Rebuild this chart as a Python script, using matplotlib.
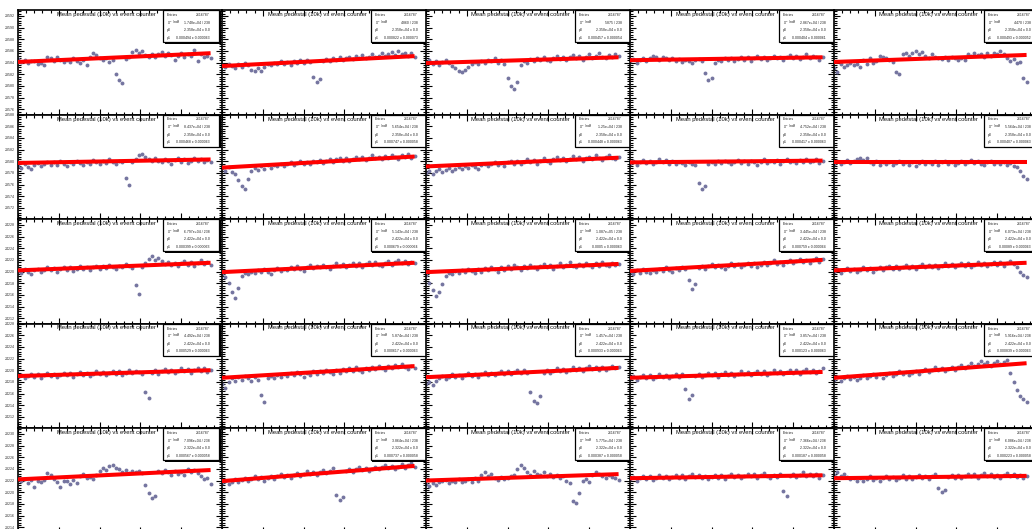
import numpy as np
import matplotlib.pyplot as plt
from matplotlib.ticker import MultipleLocator, FormatStrFormatter
from matplotlib.patches import Rectangle

plt.rcParams['font.family'] = ['Liberation Sans', 'DejaVu Sans']

W, H = 1032, 529
fig = plt.figure(figsize=(W / 100, H / 100), dpi=100)

title = "Mean pedestal (10k) vs event counter"
row_base = [23575, 23570, 24211, 24210, 23213]   # lower edge of the y range of each row
step = 40                                          # event counter between two points

# mean pedestal, in 0.1 ADC above row_base
r1c1 = [96, 91, 94, 89, 93, 92, 87, 90, 86, 99, 97, 92, 99, 94, 91, 95, 91, 97, 93, 90,
        94, 86, 100, 106, 103, 98, 94, 97, 91, 95, 70, 60, 55, 96, 100, 108, 111, 106, 109, 103,
        99, 105, 100, 104, 108, 101, 106, 103, 94, 102, 106, 99, 104, 101, 111, 93, 104, 99, 102, 98]
r1c2 = [86, 82, 88, 84, 80, 87, 83, 89, 85, 78, 76, 80, 75, 83, 88, 85, 90, 87, 92, 88,
        91, 86, 93, 89, 95, 90, 94, 91, 66, 56, 61, 92, 96, 93, 98, 95, 99, 94, 97, 100,
        96, 101, 98, 103, 97, 100, 104, 99, 102, 106, 101, 105, 108, 103, 110, 104, 107, 102, 106, 100]
r1c3 = [90, 94, 88, 92, 86, 91, 95, 89, 84, 80, 76, 74, 78, 82, 87, 91, 88, 93, 90, 95,
        92, 97, 89, 94, 88, 64, 50, 44, 56, 85, 93, 90, 96, 92, 98, 94, 99, 95, 92, 97,
        101, 96, 100, 94, 99, 103, 97, 101, 95, 100, 104, 98, 102, 106, 100, 97, 103, 99, 105, 101]
r1c4 = [92, 96, 90, 94, 98, 93, 97, 101, 99, 95, 100, 97, 94, 98, 92, 96, 91, 95, 93, 90,
        94, 96, 92, 72, 60, 64, 90, 95, 93, 97, 94, 98, 92, 96, 100, 95, 99, 93, 97, 101,
        96, 99, 94, 98, 102, 97, 100, 95, 99, 103, 98, 101, 96, 100, 104, 97, 102, 99, 95, 100]
r1c5 = [80, 74, 88, 82, 86, 90, 85, 88, 83, 94, 88, 97, 90, 93, 102, 99, 98, 95, 91, 74,
        70, 104, 107, 101, 106, 110, 104, 108, 102, 98, 105, 100, 97, 96, 100, 95, 99, 97, 94, 98,
        95, 105, 101, 107, 103, 104, 100, 106, 102, 107, 104, 109, 105, 98, 92, 96, 90, 91, 64, 57]

r2c1 = [92, 88, 95, 90, 86, 93, 97, 91, 95, 99, 94, 98, 93, 100, 96, 92, 98, 95, 101, 97,
        94, 99, 96, 102, 98, 95, 100, 97, 103, 99, 96, 101, 98, 72, 60, 99, 104, 110, 112, 107,
        103, 100, 106, 101, 98, 104, 100, 96, 102, 105, 99, 103, 97, 101, 106, 100, 104, 98, 102, 99]
r2c2 = [88, 84, 90, 82, 78, 68, 58, 52, 70, 84, 88, 85, 91, 87, 93, 89, 94, 91, 96, 92,
        95, 98, 93, 97, 100, 96, 99, 95, 101, 98, 102, 97, 100, 104, 99, 103, 106, 101, 105, 100,
        104, 108, 103, 107, 102, 106, 110, 105, 108, 104, 109, 106, 111, 107, 104, 110, 108, 112, 106, 109]
r2c3 = [80, 84, 78, 83, 86, 81, 85, 88, 83, 87, 90, 86, 92, 88, 94, 90, 87, 93, 96, 91,
        95, 99, 94, 97, 92, 98, 101, 96, 100, 95, 99, 103, 98, 102, 96, 101, 105, 100, 97, 103,
        107, 102, 106, 100, 104, 109, 103, 107, 101, 105, 108, 104, 110, 106, 102, 107, 111, 105, 103, 108]
r2c4 = [96, 100, 94, 98, 102, 97, 101, 95, 99, 103, 98, 102, 96, 100, 95, 99, 97, 93, 98, 96,
        94, 62, 52, 58, 95, 99, 96, 100, 97, 101, 98, 95, 99, 102, 97, 100, 96, 101, 98, 94,
        99, 103, 97, 101, 98, 102, 96, 100, 104, 99, 101, 97, 102, 99, 103, 98, 100, 104, 97, 101]
r2c5 = [96, 100, 95, 99, 102, 97, 101, 104, 106, 102, 105, 99, 96, 100, 94, 98, 95, 99, 93, 97,
        101, 96, 99, 94, 98, 92, 97, 100, 95, 99, 96, 100, 94, 98, 101, 96, 99, 93, 97, 100,
        95, 99, 102, 97, 100, 96, 94, 98, 101, 96, 99, 95, 98, 94, 97, 92, 90, 84, 75, 70]

r3c1 = [91, 88, 94, 90, 86, 92, 95, 89, 93, 97, 92, 96, 90, 94, 98, 93, 97, 91, 95, 99,
        94, 98, 93, 97, 100, 95, 99, 96, 102, 98, 95, 100, 97, 103, 99, 96, 67, 51, 98, 104,
        112, 116, 110, 114, 108, 103, 107, 101, 105, 99, 104, 108, 102, 106, 100, 105, 109, 103, 107, 101]
r3c2 = [86, 80, 70, 55, 45, 62, 82, 88, 85, 90, 87, 92, 89, 94, 90, 86, 93, 96, 91, 95,
        92, 97, 94, 99, 95, 91, 98, 101, 96, 100, 97, 102, 98, 95, 100, 104, 99, 103, 97, 101,
        105, 100, 104, 98, 103, 107, 101, 106, 102, 99, 104, 108, 102, 106, 110, 104, 108, 103, 107, 105]
r3c3 = [84, 70, 58, 48, 55, 68, 82, 88, 85, 91, 87, 93, 89, 95, 91, 87, 94, 90, 96, 92,
        98, 94, 90, 97, 93, 99, 95, 101, 97, 93, 100, 96, 102, 98, 94, 99, 103, 97, 101, 95,
        100, 104, 98, 102, 106, 100, 97, 103, 99, 105, 101, 98, 104, 100, 106, 102, 99, 105, 101, 103]
r3c4 = [90, 86, 92, 88, 94, 90, 87, 93, 89, 95, 91, 97, 93, 89, 96, 92, 98, 94, 75, 60,
        68, 96, 100, 95, 99, 103, 97, 101, 98, 94, 100, 104, 99, 103, 97, 101, 105, 100, 104, 98,
        102, 106, 101, 105, 109, 103, 107, 102, 106, 110, 104, 108, 112, 106, 110, 105, 109, 113, 107, 111]
r3c5 = [90, 94, 88, 92, 96, 91, 95, 89, 93, 97, 92, 96, 90, 94, 98, 93, 97, 100, 95, 99,
        94, 98, 102, 96, 100, 95, 99, 103, 97, 101, 98, 102, 96, 100, 104, 99, 103, 97, 101, 105,
        100, 104, 98, 102, 106, 101, 105, 99, 103, 107, 102, 106, 100, 104, 108, 103, 98, 90, 84, 80]

r4c1 = [88, 92, 86, 90, 94, 89, 93, 87, 91, 95, 90, 94, 88, 92, 96, 91, 95, 89, 93, 97,
        92, 96, 90, 94, 98, 93, 97, 91, 95, 99, 94, 98, 92, 96, 100, 95, 99, 97, 93, 63,
        53, 96, 100, 94, 98, 102, 97, 101, 95, 99, 103, 98, 102, 96, 100, 104, 99, 103, 97, 101]
r4c2 = [76, 70, 80, 86, 82, 88, 84, 90, 86, 82, 88, 84, 58, 46, 86, 90, 87, 92, 88, 94,
        90, 95, 91, 97, 93, 89, 96, 92, 98, 94, 99, 95, 101, 97, 93, 100, 96, 102, 98, 103,
        99, 105, 101, 97, 104, 100, 106, 102, 108, 104, 100, 107, 103, 109, 105, 111, 106, 102, 108, 104]
r4c3 = [76, 80, 74, 82, 86, 90, 85, 89, 93, 88, 92, 87, 91, 95, 90, 94, 89, 93, 97, 92,
        96, 91, 95, 99, 94, 98, 93, 97, 101, 96, 100, 95, 62, 48, 44, 56, 96, 100, 95, 99,
        103, 98, 102, 97, 101, 105, 100, 104, 99, 103, 107, 102, 106, 101, 105, 100, 104, 108, 103, 106]
r4c4 = [86, 90, 84, 88, 92, 87, 91, 85, 89, 93, 88, 92, 86, 90, 94, 89, 93, 68, 50, 58,
        90, 94, 88, 92, 96, 91, 95, 89, 93, 97, 92, 96, 90, 94, 98, 93, 97, 91, 95, 99,
        94, 98, 92, 96, 100, 95, 99, 93, 97, 101, 96, 100, 94, 98, 102, 97, 101, 95, 99, 103]
r4c5 = [84, 88, 82, 86, 90, 85, 89, 83, 87, 91, 86, 90, 94, 89, 93, 87, 91, 95, 90, 94,
        98, 93, 97, 91, 95, 99, 94, 98, 102, 97, 101, 105, 100, 104, 98, 102, 106, 101, 105, 109,
        104, 108, 112, 107, 111, 115, 110, 114, 108, 112, 116, 110, 114, 118, 96, 80, 66, 56, 50, 46]

r5c1 = [94, 89, 92, 86, 91, 79, 90, 87, 91, 103, 100, 93, 88, 79, 90, 89, 84, 91, 86, 98,
        102, 95, 96, 92, 99, 106, 112, 108, 115, 117, 112, 110, 105, 108, 103, 107, 104, 106, 103, 82,
        68, 60, 64, 106, 103, 108, 104, 100, 107, 102, 105, 99, 110, 104, 108, 103, 97, 93, 95, 84]
r5c2 = [86, 90, 84, 88, 92, 87, 91, 95, 89, 93, 97, 92, 96, 90, 94, 98, 93, 97, 101, 96,
        100, 95, 99, 103, 98, 102, 106, 101, 105, 100, 104, 108, 103, 107, 111, 66, 56, 62, 106, 110,
        105, 109, 113, 108, 112, 106, 110, 114, 109, 113, 117, 111, 115, 110, 114, 118, 112, 116, 120, 114]
r5c3 = [84, 80, 86, 82, 87, 89, 91, 86, 90, 88, 92, 87, 90, 93, 88, 95, 90, 100, 104, 98,
        102, 94, 91, 96, 92, 95, 97, 100, 110, 116, 112, 104, 100, 107, 102, 99, 104, 97, 101, 96,
        100, 95, 98, 89, 86, 55, 51, 68, 90, 93, 88, 100, 104, 101, 98, 95, 100, 96, 94, 91]
r5c4 = [92, 96, 90, 94, 98, 93, 97, 91, 95, 99, 94, 98, 92, 96, 100, 95, 99, 93, 97, 101,
        96, 100, 94, 98, 92, 96, 100, 95, 99, 93, 97, 101, 96, 100, 94, 98, 102, 97, 101, 95,
        99, 103, 98, 94, 100, 96, 101, 72, 64, 97, 101, 96, 100, 104, 98, 102, 97, 101, 95, 99]
r5c5 = [100, 104, 98, 102, 96, 92, 95, 90, 94, 89, 93, 97, 91, 95, 90, 94, 98, 92, 96, 91,
        95, 99, 93, 97, 92, 96, 100, 94, 98, 93, 97, 101, 78, 70, 74, 96, 100, 95, 99, 94,
        98, 102, 97, 101, 95, 99, 103, 98, 102, 96, 100, 95, 99, 103, 97, 101, 96, 100, 94, 98]

ped = [[r1c1, r1c2, r1c3, r1c4, r1c5],
       [r2c1, r2c2, r2c3, r2c4, r2c5],
       [r3c1, r3c2, r3c3, r3c4, r3c5],
       [r4c1, r4c2, r4c3, r4c4, r4c5],
       [r5c1, r5c2, r5c3, r5c4, r5c5]]

# fitted line (pol1) at first and last point, in 0.1 ADC above row_base
fit_start = [[91, 84, 89, 94, 91],
             [97, 89, 91, 98, 98],
             [92, 89, 89, 91, 92],
             [90, 87, 88, 87, 87],
             [92, 89, 90, 94, 94]]
fit_end = [[106, 101, 99, 99, 103],
           [103, 108, 106, 101, 98],
           [105, 105, 103, 110, 105],
           [100, 107, 104, 97, 112],
           [108, 115, 101, 99, 98]]

# stat box texts
entries = "2616787"
chi2_r1 = ["1.748e+04 / 238", "4860 / 238", "5875 / 238", "2.867e+04 / 238", "4470 / 238"]
chi2_r2 = ["8.437e+04 / 238", "5.654e+04 / 238", "1.25e+04 / 238", "4.752e+04 / 238", "5.564e+04 / 238"]
chi2_r3 = ["6.797e+04 / 238", "5.143e+04 / 238", "1.087e+05 / 238", "3.445e+04 / 238", "6.073e+04 / 238"]
chi2_r4 = ["4.492e+04 / 238", "5.874e+04 / 238", "1.457e+04 / 238", "3.857e+04 / 238", "5.916e+04 / 238"]
chi2_r5 = ["7.096e+04 / 238", "3.864e+04 / 238", "5.775e+04 / 238", "7.366e+04 / 238", "6.086e+04 / 238"]
p0_row = ["2.358e+04 \u00b1 0.0", "2.358e+04 \u00b1 0.0", "2.422e+04 \u00b1 0.0",
          "2.422e+04 \u00b1 0.0", "2.322e+04 \u00b1 0.0"]
p1_r1 = ["0.000494 \u00b1 0.000063", "0.000822 \u00b1 0.000073", "0.000457 \u00b1 0.000054",
         "0.000404 \u00b1 0.000061", "0.000493 \u00b1 0.000052"]
p1_r2 = ["0.000468 \u00b1 0.000063", "0.000747 \u00b1 0.000058", "0.000448 \u00b1 0.000063",
         "0.000417 \u00b1 0.000063", "0.000407 \u00b1 0.000063"]
p1_r3 = ["0.000399 \u00b1 0.000063", "0.000679 \u00b1 0.000064", "0.0005 \u00b1 0.000063",
         "0.000759 \u00b1 0.000064", "0.00089 \u00b1 0.000063"]
p1_r4 = ["0.000529 \u00b1 0.000063", "0.000617 \u00b1 0.000063", "0.000933 \u00b1 0.000063",
         "0.000123 \u00b1 0.000063", "0.000839 \u00b1 0.000063"]
p1_r5 = ["0.000567 \u00b1 0.000058", "0.000737 \u00b1 0.000058", "0.000387 \u00b1 0.000058",
         "0.000187 \u00b1 0.000058", "0.000223 \u00b1 0.000058"]
chi2 = [chi2_r1, chi2_r2, chi2_r3, chi2_r4, chi2_r5]
p1s = [p1_r1, p1_r2, p1_r3, p1_r4, p1_r5]

# layout in pixels
pad_w, pad_h = 204, 104.5
col_left = [18 + 204 * i for i in range(5)]
row_top = [10 + 104.5 * j for j in range(5)]
title_dx = [88, 95, 94, 95, 94]
box_dx = [145, 149, 149, 149, 150]
box_w, box_h = 56, 32

for r in range(5):
    T = row_top[r]
    for c in range(5):
        x0 = col_left[c]
        ax = fig.add_axes([x0 / W, 1 - (T + pad_h) / H, pad_w / W, pad_h / H])
        ax.set_facecolor('white')

        vals = row_base[r] + np.array(ped[r][c]) / 10.0
        xs = np.arange(len(vals)) * step
        ax.plot(xs, vals, 'o', ms=2.8, color='#7575a0', mec='none', zorder=2)
        fy = [row_base[r] + fit_start[r][c] / 10.0, row_base[r] + fit_end[r][c] / 10.0]
        ax.plot([xs[0], xs[-1]], fy, color='#ff0000', lw=2.9,
                solid_capstyle='butt', zorder=3)

        ax.set_xlim(0, 2500)
        ax.set_ylim(row_base[r] + 0.1, row_base[r] + 18)
        ax.xaxis.set_major_locator(MultipleLocator(500))
        ax.xaxis.set_minor_locator(MultipleLocator(100))
        ax.yaxis.set_major_locator(MultipleLocator(2))
        ax.yaxis.set_minor_locator(MultipleLocator(0.4))
        ax.yaxis.set_major_formatter(FormatStrFormatter('%d'))
        ax.tick_params(which='both', direction='in', top=True, right=True,
                       labelbottom=False, labelleft=(c == 0), labelsize=2.6,
                       labelcolor='#333333', pad=2, width=0.8, color='black')
        ax.tick_params(which='major', length=4.3)
        ax.tick_params(which='minor', length=2.2)
        for side in ['left', 'top', 'bottom']:
            ax.spines[side].set_linewidth(1.2)
        ax.spines['right'].set_visible(False)

        # title
        ax.text((title_dx[c]) / pad_w, 1 - 4.5 / pad_h, title, transform=ax.transAxes,
                ha='center', va='center', fontsize=4.2, color='#111111', zorder=5)

        # stat box with shadow
        bx = box_dx[c] / pad_w
        by = 1 - box_h / pad_h
        ax.add_patch(Rectangle((bx + 1.5 / pad_w, by - 1.5 / pad_h), box_w / pad_w, box_h / pad_h,
                               transform=ax.transAxes, facecolor='black', edgecolor='none',
                               clip_on=False, zorder=6))
        ax.add_patch(Rectangle((bx, by), box_w / pad_w, box_h / pad_h, transform=ax.transAxes,
                               facecolor='white', edgecolor='black', lw=0.9,
                               clip_on=False, zorder=7))
        names = ['Entries', r'$\chi^{2}$ / ndf', 'p0', 'p1']
        values = [entries, chi2[r][c], p0_row[r], p1s[r][c]]
        for k in range(4):
            yy = 1 - (5 + 7.6 * k) / pad_h
            ax.text(bx + 4 / pad_w, yy, names[k], transform=ax.transAxes, ha='left',
                    va='center', fontsize=2.5, color='#222222', zorder=8, clip_on=False)
            ax.text(bx + 47 / pad_w, yy, values[k], transform=ax.transAxes, ha='right',
                    va='center', fontsize=2.5, color='#222222', zorder=8, clip_on=False)

fig.savefig('out.png', dpi=100, facecolor='white')
